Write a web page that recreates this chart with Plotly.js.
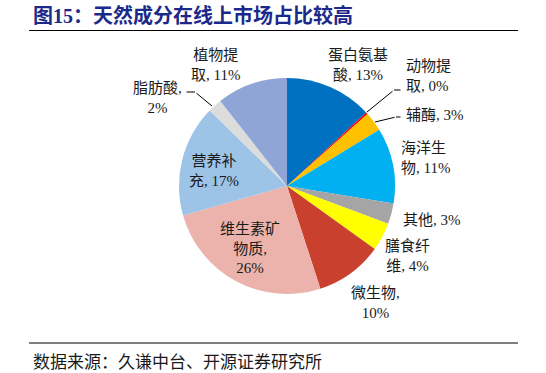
<!DOCTYPE html>
<html><head><meta charset="utf-8">
<script src="https://cdn.plot.ly/plotly-3.0.1.min.js"></script>
<style>html,body{margin:0;padding:0;background:#fff;}</style>
</head><body>
<div id="chart" style="width:546px;height:373px;"></div>
<script>
// Data
const categories = ['蛋白氨基酸','动物提取','辅酶','海洋生物','其他','膳食纤维','微生物','维生素矿物质','营养补充','脂肪酸','植物提取'];
const shares = [13.1, 0.3, 2.9, 11.3, 3.1, 4.2, 10.1, 25.6, 16.7, 2.1, 10.6];
const labelFormats = ['蛋白氨基<br>酸, {p}','动物提<br>取, {p}','辅酶, {p}','海洋生<br>物, {p}','其他, {p}','膳食纤<br>维, {p}','微生物,<br>{p}','维生素矿<br>物质,<br>{p}','营养补<br>充, {p}','脂肪酸,<br>{p}','植物提<br>取, {p}'];
const sliceColors = ['#0070C0','#FF0000','#FFC000','#00B0F0','#A5A5A5','#FFFF00','#C9402F','#EBB3AB','#9DC3E6','#DCDCDC','#8FA5D6'];

// Layout helpers (pixel positions of labels)
const W = 546, H = 373;
const px = x => x / W, py = y => 1 - y / H;
const labelPos = [
  {x:358, y:65, a:'center'},
  {x:404, y:76, a:'left'},
  {x:404, y:115, a:'left'},
  {x:399, y:158, a:'left'},
  {x:401, y:220, a:'left'},
  {x:407, y:256, a:'center'},
  {x:375, y:303, a:'center'},
  {x:250, y:248, a:'center'},
  {x:214, y:171, a:'center'},
  {x:157, y:98, a:'center'},
  {x:215, y:65, a:'center'}
];
const labelFont = {family:'"Liberation Serif", "Noto Sans CJK SC", serif', size:15, color:'#1a1a1a'};

const annotations = categories.map((c, i) => ({
  xref:'paper', yref:'paper',
  x: px(labelPos[i].x), y: py(labelPos[i].y),
  xanchor: labelPos[i].a, yanchor:'middle', align: labelPos[i].a,
  text: labelFormats[i].replace('{p}', Math.round(shares[i]) + '%'),
  showarrow:false, font: labelFont
}));

// leader lines (head at pie edge, tail towards label)
function leader(x0, y0, x1, y1) {
  return {xref:'paper', yref:'paper', x:px(x1), y:py(y1), ax:x0 - x1, ay:y0 - y1,
          axref:'pixel', ayref:'pixel', text:'', showarrow:true, arrowhead:0,
          arrowwidth:1, arrowcolor:'#000'};
}
annotations.push(leader(394, 90, 367, 112));
annotations.push(leader(402, 90, 394, 90));
annotations.push(leader(396, 117, 375, 122));
annotations.push(leader(402, 117, 396, 117));
annotations.push(leader(185, 92, 195, 92));
annotations.push(leader(195, 92, 212, 106));

// Title and source
annotations.push({xref:'paper', yref:'paper', x:px(31), y:py(15), xanchor:'left', yanchor:'middle',
  text:'<b>图15：天然成分在线上市场占比较高</b>', showarrow:false,
  font:{family:'"Liberation Serif", "Noto Sans CJK SC", serif', size:20, color:'#1B2A8A'}});
annotations.push({xref:'paper', yref:'paper', x:px(31), y:py(360), xanchor:'left', yanchor:'middle',
  text:'数据来源：久谦中台、开源证券研究所', showarrow:false,
  font:{family:'"Noto Sans CJK SC", sans-serif', size:17, color:'#1a1a1a'}});

const R = 108, cx = 287, cy = 186;
const trace = {
  type:'pie',
  labels: categories,
  values: shares,
  sort:false,
  direction:'clockwise',
  rotation:0,
  textinfo:'none',
  hoverinfo:'label+percent',
  marker:{colors: sliceColors, line:{width:0}},
  domain:{x:[px(cx - R), px(cx + R)], y:[py(cy + R), py(cy - R)]},
  showlegend:false
};

const layout = {
  width:W, height:H,
  margin:{l:0, r:0, t:0, b:0},
  paper_bgcolor:'#fff',
  showlegend:false,
  annotations: annotations,
  shapes:[
    {type:'line', xref:'paper', yref:'paper', x0:px(29), x1:px(518), y0:py(30.5), y1:py(30.5), line:{color:'#000', width:1}},
    {type:'line', xref:'paper', yref:'paper', x0:px(29), x1:px(518), y0:py(343), y1:py(343), line:{color:'#000', width:1}}
  ]
};

Plotly.newPlot('chart', [trace], layout, {displayModeBar:false, staticPlot:true});
</script>
</body></html>
